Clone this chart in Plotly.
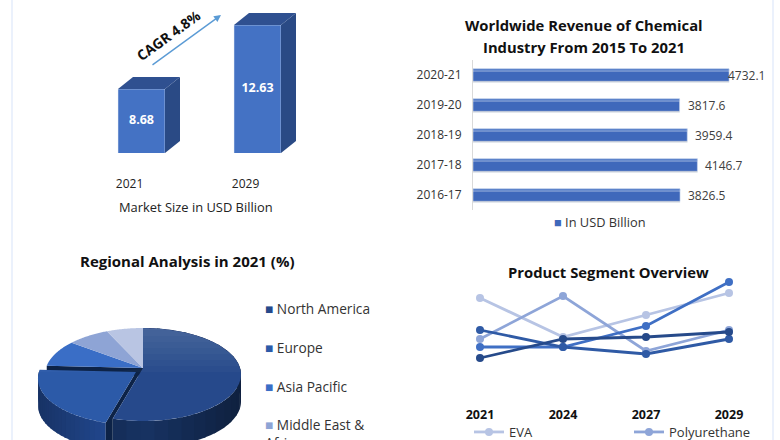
import numpy as np
import plotly.graph_objects as go

W, H = 780, 440
FONT = "Open Sans"

# market size
size_years = ["2021", "2029"]
size_values = [8.68, 12.63]

# revenue bars
rev_years = ["2016-17", "2017-18", "2018-19", "2019-20", "2020-21"]
rev_values = [3826.5, 4146.7, 3959.4, 3817.6, 4732.1]

# regional pie
regions = ["North America", "Europe", "Asia Pacific", "Middle East &<br>Africa", "South America"]
region_share = [55, 23, 9, 7, 6]
region_top = ["#26498b", "#2c5aa8", "#3a6ec6", "#8ea4d5", "#b9c5e3"]
region_side = ["#13294f", "#1e407f", "#244a8c", "#5f77a8", "#8090b5"]

# product lines (no axis in the picture, so values are heights on a hidden scale)
seg_years = ["2021", "2024", "2027", "2029"]
eva = [102, 63, 85, 107]
polyurethane = [61, 104, 49, 70]
seg_three = [53, 53, 74, 118]
seg_four = [70, 53, 46, 61]
seg_five = [42, 61, 63, 68]


def dom_x(a, b):
    return [a / W, b / W]


def dom_y(top, bottom):
    return [1 - bottom / H, 1 - top / H]


fig = go.Figure()

# ---- top left, 3d columns
bar_w = 47 / 116
dx, dy = 15 / 116, 12 / 16.2
base = 4.73
for i, v in enumerate(size_values):
    r = i + bar_w / 2
    l = i - bar_w / 2
    fig.add_trace(go.Scatter(x=[r, r + dx, r + dx, r, r], y=[base, base + dy, v + dy, v, base],
                             fill="toself", fillcolor="#2a4a85", mode="none", xaxis="x", yaxis="y",
                             showlegend=False, hoverinfo="skip"))
    fig.add_trace(go.Scatter(x=[l, r, r + dx, l + dx, l], y=[v, v, v + dy, v + dy, v],
                             fill="toself", fillcolor="#2f5090", mode="none", xaxis="x", yaxis="y",
                             showlegend=False, hoverinfo="skip"))
fig.add_trace(go.Bar(x=[0, 1], y=size_values, width=bar_w, marker_color="#4472c4", xaxis="x", yaxis="y",
                     showlegend=False))
fig.add_trace(go.Scatter(x=[0, 1], y=[(v + base) / 2 for v in size_values], mode="text",
                         text=[str(v) for v in size_values], xaxis="x", yaxis="y", showlegend=False,
                         textfont=dict(family=FONT, size=12.5, color="white", weight="bold"), hoverinfo="skip"))

# ---- top right, revenue bars with a soft shadow
fig.add_trace(go.Bar(y=rev_years, x=rev_values, orientation="h", width=0.44, offset=-0.25,
                     marker_color="rgba(70,70,70,0.3)", xaxis="x2", yaxis="y2", showlegend=False, hoverinfo="skip"))
fig.add_trace(go.Bar(y=rev_years, x=rev_values, orientation="h", width=0.42, offset=-0.21,
                     marker_color="#3f68bb", xaxis="x2", yaxis="y2", showlegend=False, name="In USD Billion"))
fig.add_trace(go.Bar(y=rev_years, x=rev_values, orientation="h", width=0.08, offset=0.13,
                     marker_color="#4f78c6", xaxis="x2", yaxis="y2", showlegend=False, hoverinfo="skip"))
fig.update_layout(barmode="overlay")

# ---- bottom left, tilted pie
cx, cy, rx, ry = 143, 374.5, 98, 46.5
apex_y = 368
depth = 27
move_x, move_y = -7, 4
edges = np.cumsum([0] + region_share) / sum(region_share) * 2 * np.pi
pie_x, pie_y = "x3", "y3"


def rim(a0, a1, n=40):
    t = np.linspace(a0, a1, n)
    return cx + rx * np.sin(t), cy - ry * np.cos(t)


def poly(xs, ys, color):
    fig.add_trace(go.Scatter(x=xs, y=ys, fill="toself", fillcolor=color, mode="none", xaxis=pie_x, yaxis=pie_y,
                             showlegend=False, hoverinfo="skip"))


def shade(c, f):
    c = c.lstrip("#")
    rgb = [int(c[j:j + 2], 16) for j in (0, 2, 4)]
    return "rgb(%d,%d,%d)" % tuple(min(255, int(p * f)) for p in rgb)


# dark cut face behind the moved slice, top edge
xs, ys = rim(edges[1], edges[2])
poly([cx, xs[-1], xs[-1], cx], [apex_y, ys[-1], ys[-1] + 6, apex_y + 8], "#0d2347")

for k in [1, 0]:
    ox, oy = (move_x, move_y) if k == 1 else (0, 0)
    a0, a1 = edges[k], edges[k + 1]
    # walls, cut along the rim so the side gets darker towards the edges
    parts = np.linspace(a0, a1, 25)
    for p0, p1 in zip(parts[:-1], parts[1:]):
        xs, ys = rim(p0, min(p1 + 0.03, a1), 6)
        mid = abs(np.sin((p0 + p1) / 2))
        poly(np.r_[xs, xs[::-1]] + ox, np.r_[ys, ys[::-1] + depth] + oy, shade(region_side[k], 1.25 - 0.45 * mid))

# gap between north america and the moved slice
xs, ys = rim(edges[0], edges[1])
xr, yr = xs[-1], ys[-1]
poly([cx, xr, xr, xr + move_x, xr + move_x, cx + move_x],
     [apex_y, yr, yr + depth, yr + depth + move_y, yr + move_y, apex_y + move_y], "#0d2347")

for k in [2, 3, 4, 0, 1]:
    ox, oy = (move_x, move_y) if k == 1 else (0, 0)
    xs, ys = rim(edges[k], edges[k + 1])
    px = np.r_[cx, xs, cx] + ox
    py = np.r_[apex_y, ys, apex_y] + oy
    poly(px, py, region_top[k])
    if k < 2:
        # lighter towards the back of the top face
        for limit in range(330, 376, 6):
            poly(px, np.minimum(py, limit), "rgba(255,255,255,0.025)")

# ---- bottom right, lines
seg_series = [("EVA", eva, "#b7c4e4"), ("Polyurethane", polyurethane, "#8ea5d8"),
              ("Segment 3", seg_three, "#3f6fc4"), ("Segment 4", seg_four, "#2f5aa5"),
              ("Segment 5", seg_five, "#264a8a")]
for name, vals, col in seg_series:
    fig.add_trace(go.Scatter(x=list(range(4)), y=vals, mode="lines+markers", name=name,
                             line=dict(color=col, width=2.8), marker=dict(color=col, size=8),
                             xaxis="x4", yaxis="y4", showlegend=name in ("EVA", "Polyurethane")))

hidden = dict(showgrid=False, zeroline=False, showline=False)
notes = []


def note(x, y, text, size=12, bold=False, color="#222222", anchor="center", **kw):
    notes.append(dict(xref="paper", yref="paper", x=x / W, y=1 - y / H, text=text, showarrow=False, xanchor=anchor,
                      yanchor="middle", font=dict(family=FONT, size=size, color=color,
                                                  weight="bold" if bold else "normal"), **kw))


note(196, 207, "Market Size in USD Billion", 12.9)
note(168, 35, "CAGR 4.8%", 14, True, "#111111", textangle=-36)
note(584, 25, "Worldwide Revenue of Chemical", 14.8, True, "#111111")
note(584, 47, "Industry From 2015 To 2021", 14.8, True, "#111111")
note(187, 261, "Regional Analysis in 2021 (%)", 15, True, "#111111")
note(608, 272, "Product Segment Overview", 14.8, True, "#111111")
note(552, 222, '<span style="color:#3f68bb">■</span> In USD Billion', 12.8, False, "#333333", anchor="left")
legend_rows = [308, 347, 386, 424]
for row, name, col in zip(legend_rows, regions, region_top):
    note(263, row + (9 if "<br>" in name else 0), '<span style="color:%s">■</span> %s' % (col, name), 13.7, False,
         "#333333", anchor="left", align="left")
notes.append(dict(xref="paper", yref="paper", x=221 / W, y=1 - 15 / H, ax=-70, ay=51,
                  axref="pixel", ayref="pixel", text="", showarrow=True, arrowhead=2, arrowwidth=1.4,
                  arrowcolor="#5b9bd5"))
for y, v in zip(rev_years, rev_values):
    notes.append(dict(xref="x2", yref="y2", x=v, y=y, text=str(v), showarrow=False, xanchor="left",
                      xshift=-3 if v == max(rev_values) else 6,
                      font=dict(family=FONT, size=12, color="#404040")))

# pale blue rules at both sides of the page
edges_page = [dict(type="line", xref="paper", yref="paper", x0=x / W, x1=x / W, y0=0, y1=1,
                   line=dict(color="#e4ecfb", width=1.5)) for x in (12, 773)]

fig.update_layout(
    width=W, height=H, margin=dict(l=0, r=0, t=0, b=0, autoexpand=False), paper_bgcolor="white", plot_bgcolor="white",
    font=dict(family=FONT, size=12, color="#333333"), annotations=notes, shapes=edges_page,
    xaxis=dict(domain=dom_x(60, 340), range=[(60 - 141.5) / 116, (340 - 141.5) / 116], tickmode="array",
               tickvals=[-0.103, 0.897], ticktext=size_years, ticks="outside", ticklen=20, tickcolor="rgba(0,0,0,0)",
               tickfont=dict(size=12, color="#222222"), **hidden),
    yaxis=dict(domain=dom_y(0, 153), range=[base, base + 153 / 16.2], visible=False),
    xaxis2=dict(domain=dom_x(473, 770), range=[0, 297 * 18.48], visible=False),
    yaxis2=dict(domain=dom_y(60, 210), anchor="x2", showgrid=False, zeroline=False, showline=True, linecolor="#d9d9d9",
                ticks="outside", ticklen=8, tickcolor="rgba(0,0,0,0)", tickfont=dict(size=12, color="#333333")),
    xaxis3=dict(domain=dom_x(0, 260), range=[0, 260], visible=False),
    yaxis3=dict(domain=dom_y(300, 440), range=[440, 300], visible=False),
    xaxis4=dict(domain=dom_x(440, 770), range=[-40 / 83, 290 / 83], anchor="y4", tickmode="array",
                tickvals=[0, 1, 2, 3], ticktext=seg_years, ticks="outside", ticklen=3, tickcolor="rgba(0,0,0,0)",
                tickfont=dict(size=12.5, color="#111111", weight="bold"), **hidden),
    yaxis4=dict(domain=dom_y(270, 400), range=[0, 130], visible=False),
    legend=dict(orientation="h", x=469 / W, y=1 - 417 / H, xanchor="left", yanchor="top", entrywidth=115,
                entrywidthmode="pixels", itemwidth=30, font=dict(size=13), bgcolor="rgba(0,0,0,0)"),
)

fig.write_html("out.html", post_script="document.body.style.margin='0'", config=dict(displayModeBar=False))
